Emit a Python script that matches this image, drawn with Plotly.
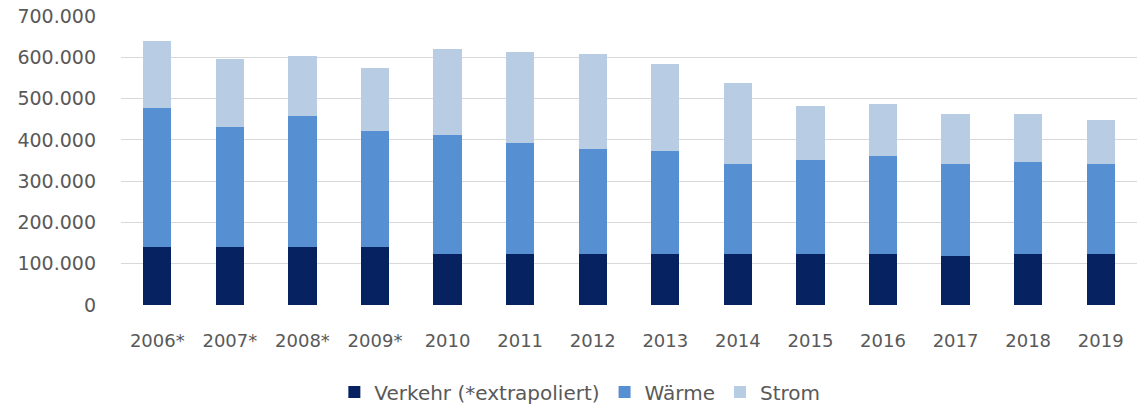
import plotly.graph_objects as go

years = ["2006*", "2007*", "2008*", "2009*", "2010", "2011", "2012", "2013",
         "2014", "2015", "2016", "2017", "2018", "2019"]
verkehr = [140000, 140000, 140000, 140000, 123000, 123000, 123000, 123000,
           123000, 123000, 123000, 118000, 123000, 123000]
waerme = [337000, 291000, 318000, 281000, 288000, 270000, 256000, 251000,
          218000, 228000, 238000, 223000, 223000, 218000]
strom = [163000, 166000, 145000, 153000, 210000, 219000, 228000, 210000,
         196000, 130000, 125000, 122000, 117000, 107000]
y_ticks = [0, 100000, 200000, 300000, 400000, 500000, 600000, 700000]

font_family = "DejaVu Sans"
text_color = "#595959"

fig = go.Figure()
fig.add_trace(go.Bar(x=years, y=verkehr, name="Verkehr (*extrapoliert)",
                     marker=dict(color="#062261", line=dict(width=0))))
fig.add_trace(go.Bar(x=years, y=waerme, name="Wärme",
                     marker=dict(color="#578fd3", line=dict(width=0))))
fig.add_trace(go.Bar(x=years, y=strom, name="Strom",
                     marker=dict(color="#b8cce4", line=dict(width=0))))

fig.update_layout(
    barmode="stack",
    bargap=0.61,
    width=1138, height=407,
    margin=dict(l=121, r=1, t=16, b=102, autoexpand=False),
    paper_bgcolor="white", plot_bgcolor="white",
    separators=",.",
    font=dict(family=font_family, size=18, color=text_color),
    legend=dict(orientation="h", yref="container", y=0.085, yanchor="top",
                x=0.21, xanchor="left", font=dict(size=20, color=text_color),
                traceorder="normal", itemwidth=30),
    showlegend=True,
)
fig.update_yaxes(range=[0, 700000], tickvals=y_ticks, tickformat=",d",
                 showgrid=True, gridcolor="#d9d9d9", gridwidth=1,
                 zeroline=False, showline=False, ticklabelstandoff=24,
                 automargin=False,
                 tickfont=dict(size=19, color=text_color))
fig.update_xaxes(showgrid=False, showline=False, zeroline=False,
                 ticks="", ticklabelstandoff=23, automargin=False,
                 tickfont=dict(size=18, color=text_color))

fig.write_html("out.html", config={"displayModeBar": False},
               post_script="document.body.style.margin='0';document.body.style.overflow='hidden';")
